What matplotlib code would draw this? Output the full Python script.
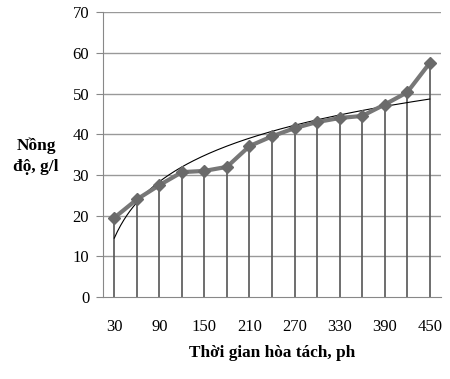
import numpy as np
import matplotlib.pyplot as plt

# dissolution time (min) and concentration (g/l)
times = [30, 60, 90, 120, 150, 180, 210, 240, 270, 300, 330, 360, 390, 420, 450]
conc = [19.5, 24.0, 27.5, 30.7, 31.0, 32.0, 37.1, 39.5, 41.5, 43.0, 44.0, 44.5, 47.3, 50.3, 57.5]
xtick_labels = ['30', '90', '150', '210', '270', '330', '390', '450']

plt.rcParams['font.family'] = ['Liberation Serif', 'DejaVu Serif']

fig = plt.figure(figsize=(4.5, 3.79), dpi=100)
ax = fig.add_axes([0.229, 0.216, 0.751, 0.752])

x = np.array(times)
y = np.array(conc)

# gridlines
for v in range(10, 80, 10):
    ax.axhline(v, color='#999999', lw=1.0, zorder=0)

# drop lines to axis
ax.vlines(x, 0, y, colors='#555555', lw=1.2, zorder=1)

# logarithmic trendline (Excel style, on category index)
idx = np.arange(1, len(x) + 1)
b, a = np.polyfit(np.log(idx), y, 1)
xt = np.linspace(1, len(x), 200)
ax.plot(30 * xt, a + b * np.log(xt), color='black', lw=0.8, zorder=2)

ax.plot(x, y, color='#777777', lw=3, marker='D', markersize=6,
        markerfacecolor='#6a6a6a', markeredgecolor='#6a6a6a', zorder=3)

ax.set_xlim(15, 465)
ax.set_ylim(0, 70)
ax.set_yticks(range(0, 80, 10))
ax.set_xticks(times[::2])
ax.set_xticklabels(xtick_labels)
ax.tick_params(axis='x', length=0, pad=16, labelsize=12)
ax.tick_params(axis='y', length=5, color='#888888', pad=5, labelsize=12)

for s in ['top', 'right']:
    ax.spines[s].set_visible(False)
ax.spines['left'].set_color('#888888')
ax.spines['bottom'].set_color('#888888')

fig.text(0.08, 0.588, 'Nồng\nđộ, g/l', ha='center', va='center',
         fontsize=12.5, fontweight='bold', linespacing=1.45)
fig.text(0.604, 0.069, 'Thời gian hòa tách, ph', ha='center', va='center',
         fontsize=12.4, fontweight='bold')

fig.savefig('out.png', dpi=100)
